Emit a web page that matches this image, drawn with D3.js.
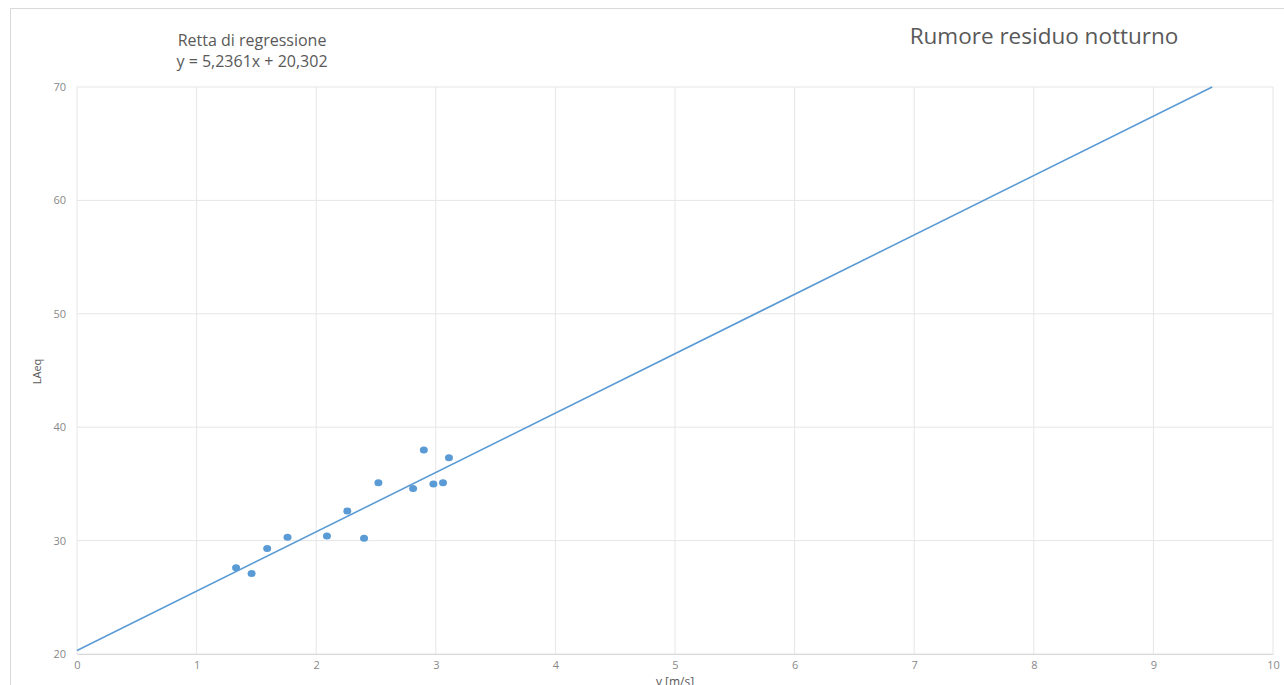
<!DOCTYPE html>
<html>
<head>
<meta charset="utf-8">
<script src="https://cdn.jsdelivr.net/npm/d3@7"></script>
<style>
  body { margin: 0; background: #fff; }
  svg { display: block; font-family: "Open Sans", "Noto Sans", sans-serif; }
</style>
</head>
<body>
<div id="chart"></div>
<script>
// wind speed v [m/s] vs LAeq, night residual noise
const speed = [1.33, 1.46, 1.59, 1.76, 2.09, 2.26, 2.40, 2.52, 2.81, 2.90, 2.98, 3.06, 3.11];
const laeq  = [27.6, 27.1, 29.3, 30.3, 30.4, 32.6, 30.2, 35.1, 34.6, 38.0, 35.0, 35.1, 37.3];
const slope = 5.2361, intercept = 20.302;
const xTicks = [0, 1, 2, 3, 4, 5, 6, 7, 8, 9, 10];
const yTicks = [20, 30, 40, 50, 60, 70];

const W = 1284, H = 685;
const margin = {top: 87, right: 11, bottom: 31, left: 77};
const blue = "#5b9bd5";

const svg = d3.select("#chart").append("svg")
    .attr("width", W).attr("height", H);

// outer chart frame (partly cut off in the picture)
svg.append("path")
    .attr("d", "M10.5," + H + " V8.5 H" + W)
    .attr("fill", "none")
    .attr("stroke", "#d9d9d9")
    .attr("stroke-width", 1);

const x = d3.scaleLinear().domain([0, 10]).range([margin.left, W - margin.right]);
const y = d3.scaleLinear().domain([20, 70]).range([H - margin.bottom, margin.top]);

// grid
svg.append("g").selectAll("line").data(xTicks).join("line")
    .attr("x1", d => x(d)).attr("x2", d => x(d))
    .attr("y1", y(20)).attr("y2", y(70))
    .attr("stroke", "#e6e6e6");
svg.append("g").selectAll("line").data(yTicks).join("line")
    .attr("x1", x(0)).attr("x2", x(10))
    .attr("y1", d => y(d)).attr("y2", d => y(d))
    .attr("stroke", "#e6e6e6");

// axes (labels only, Excel style)
const xAxis = svg.append("g")
    .attr("transform", "translate(0," + y(20) + ")")
    .call(d3.axisBottom(x).tickValues(xTicks).tickSize(0).tickPadding(7));
const yAxis = svg.append("g")
    .attr("transform", "translate(" + x(0) + ",0)")
    .call(d3.axisLeft(y).tickValues(yTicks).tickSize(0).tickPadding(11));
[xAxis, yAxis].forEach(g => {
  g.select(".domain").attr("stroke", "#d9d9d9");
  g.selectAll("text").attr("fill", "#888888").style("font-size", "11px")
    .style("font-family", "'Open Sans', sans-serif");
});
yAxis.select(".domain").remove();

// regression line from x=0 up to where it reaches y=70
const xEnd = (70 - intercept) / slope;
svg.append("line")
    .attr("x1", x(0)).attr("y1", y(intercept))
    .attr("x2", x(xEnd)).attr("y2", y(70))
    .attr("stroke", blue).attr("stroke-width", 1.6);

// points
svg.append("g").selectAll("ellipse").data(speed).join("ellipse")
    .attr("cx", (d, i) => x(d))
    .attr("cy", (d, i) => y(laeq[i]))
    .attr("rx", 4).attr("ry", 3.5)
    .attr("fill", blue);

// titles
svg.append("text")
    .attr("x", 1044).attr("y", 44)
    .attr("text-anchor", "middle")
    .attr("fill", "#595959")
    .style("font-size", "22.5px")
    .text("Rumore residuo notturno");

const eq = svg.append("text")
    .attr("text-anchor", "middle")
    .attr("fill", "#595959")
    .style("font-size", "16px");
eq.append("tspan").attr("x", 252).attr("y", 46).text("Retta di regressione");
eq.append("tspan").attr("x", 252).attr("y", 67).text("y = 5,2361x + 20,302");

svg.append("text")
    .attr("transform", "translate(41," + (y(45) + 1) + ") rotate(-90)")
    .attr("text-anchor", "middle")
    .attr("fill", "#595959")
    .style("font-size", "11px")
    .text("LAeq");

svg.append("text")
    .attr("x", x(5)).attr("y", 686)
    .attr("text-anchor", "middle")
    .attr("fill", "#595959")
    .style("font-size", "12px")
    .text("v [m/s]");
</script>
</body>
</html>
